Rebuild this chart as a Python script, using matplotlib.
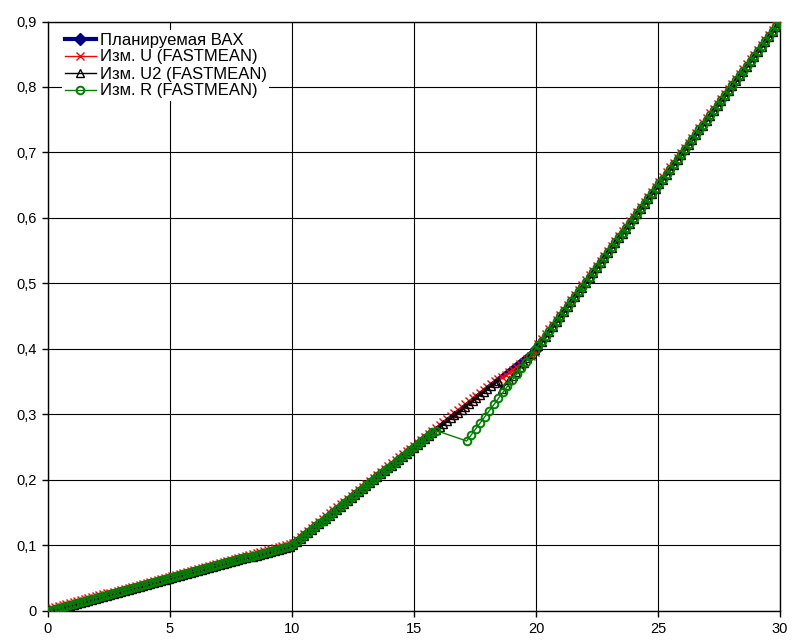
import matplotlib
matplotlib.use("Agg")
import matplotlib.pyplot as plt
from matplotlib.ticker import FuncFormatter

plt.rcParams['font.family'] = ['Liberation Sans', 'DejaVu Sans']

# planned I-V curve
x_plan = [0, 10, 20, 30]
y_plan = [0, 0.1, 0.4, 0.9]

# sweep points of the measured curves (U, U2)
x_meas = [0, 0.15, 0.3, 0.45, 0.6, 0.75, 0.9, 1.05, 1.2, 1.35, 1.5, 1.65, 1.8, 1.95, 2.1, 2.25, 2.4, 2.55, 2.7, 2.85,
          3, 3.15, 3.3, 3.45, 3.6, 3.75, 3.9, 4.05, 4.2, 4.35, 4.5, 4.65, 4.8, 4.95, 5.1, 5.25, 5.4, 5.55, 5.7, 5.85,
          6, 6.15, 6.3, 6.45, 6.6, 6.75, 6.9, 7.05, 7.2, 7.35, 7.5, 7.65, 7.8, 7.95, 8.1, 8.25, 8.4, 8.55, 8.7, 8.85,
          9, 9.15, 9.3, 9.45, 9.6, 9.75, 9.9,
          10.05, 10.2, 10.35, 10.5, 10.65, 10.8, 10.95, 11.1, 11.25, 11.4, 11.55, 11.7, 11.85, 12, 12.15, 12.3, 12.45,
          12.6, 12.75, 12.9, 13.05, 13.2, 13.35, 13.5, 13.65, 13.8, 13.95, 14.1, 14.25, 14.4, 14.55, 14.7, 14.85, 15,
          15.15, 15.3, 15.45, 15.6, 15.75, 15.9, 16.05, 16.2, 16.35, 16.5, 16.65, 16.8, 16.95, 17.1, 17.25, 17.4, 17.55,
          17.7, 17.85, 18, 18.15, 18.3, 18.45, 18.6, 18.75, 18.9, 19.05, 19.2, 19.35, 19.5, 19.65, 19.8, 19.95,
          20.1, 20.25, 20.4, 20.55, 20.7, 20.85, 21, 21.15, 21.3, 21.45, 21.6, 21.75, 21.9, 22.05, 22.2, 22.35, 22.5,
          22.65, 22.8, 22.95, 23.1, 23.25, 23.4, 23.55, 23.7, 23.85, 24, 24.15, 24.3, 24.45, 24.6, 24.75, 24.9, 25.05,
          25.2, 25.35, 25.5, 25.65, 25.8, 25.95, 26.1, 26.25, 26.4, 26.55, 26.7, 26.85, 27, 27.15, 27.3, 27.45, 27.6,
          27.75, 27.9, 28.05, 28.2, 28.35, 28.5, 28.65, 28.8, 28.95, 29.1, 29.25, 29.4, 29.55, 29.7, 29.85, 30]

u_meas = [0, .0035, .005, .0065, .008, .0095, .011, .0125, .014, .0155, .017, .0185, .02, .0215, .023, .0245, .026,
          .0275, .029, .0305, .032, .0335, .035, .0365, .038, .0395, .041, .0425, .044, .0455, .047, .0485, .05, .0515,
          .053, .0545, .056, .0575, .059, .0605, .062, .0635, .065, .0665, .068, .0695, .071, .0725, .074, .0755, .077,
          .0785, .08, .0815, .083, .0845, .086, .0875, .089, .0905, .092, .0935, .095, .0965, .098, .0995, .101,
          .1035, .108, .1125, .117, .1215, .126, .1305, .135, .1395, .144, .1485, .153, .1575, .162, .1665, .171, .1755,
          .18, .1845, .189, .1935, .198, .2025, .207, .2115, .216, .2205, .225, .2295, .234, .2385, .243, .2475, .252,
          .2565, .261, .2655, .27, .2745, .279, .2835, .288, .2925, .297, .3015, .306, .3105, .315, .3195, .324, .3285,
          .333, .3375, .342, .3465, .35, .353, .3565, .36, .364, .368, .372, .376, .38, .384, .389, .395,
          .407, .4145, .422, .4295, .437, .4445, .452, .4595, .467, .4745, .482, .4895, .497, .5045, .512, .5195, .527,
          .5345, .542, .5495, .557, .5645, .572, .5795, .587, .5945, .602, .6095, .617, .6245, .632, .6395, .647, .6545,
          .662, .6695, .677, .6845, .692, .6995, .707, .7145, .722, .7295, .737, .7445, .752, .7595, .767, .7745, .782,
          .7895, .797, .8045, .812, .8195, .827, .8345, .842, .8495, .857, .8645, .872, .8795, .887, .8945, .9]

u2_meas = [0, 0, .0015, .003, .0045, .006, .0075, .009, .0105, .012, .0135, .015, .0165, .018, .0195, .021, .0225,
           .024, .0255, .027, .0285, .03, .0315, .033, .0345, .036, .0375, .039, .0405, .042, .0435, .045, .0465, .048,
           .0495, .051, .0525, .054, .0555, .057, .0585, .06, .0615, .063, .0645, .066, .0675, .069, .0705, .072, .0735,
           .075, .0765, .078, .0795, .081, .0825, .084, .0855, .087, .0885, .09, .0915, .093, .0945, .096, .0975,
           .1, .1045, .109, .1135, .118, .1225, .127, .1315, .136, .1405, .145, .1495, .154, .1585, .163, .1675, .172,
           .1765, .181, .1855, .19, .1945, .199, .2035, .208, .2125, .217, .2215, .226, .2305, .235, .2395, .244, .2485,
           .253, .2575, .262, .2665, .271, .2755, .28, .2845, .289, .2935, .298, .3025, .307, .3115, .316, .3205, .325,
           .3295, .334, .3385, .343, .3475, .351, .338, .3447, .3515, .3582, .365, .3717, .3784, .3851, .3918, .3985,
           .4035, .411, .4185, .426, .4335, .441, .4485, .456, .4635, .471, .4785, .486, .4935, .501, .5085, .516, .5235,
           .531, .5385, .546, .5535, .561, .5685, .576, .5835, .591, .5985, .606, .6135, .621, .6285, .636, .6435, .651,
           .6585, .666, .6735, .681, .6885, .696, .7035, .711, .7185, .726, .7335, .741, .7485, .756, .7635, .771, .7785,
           .786, .7935, .801, .8085, .816, .8235, .831, .8385, .846, .8535, .861, .8685, .876, .8835, .891, .9]

# R sweep: normal up to 15.9, a dip after it, back on the curve from 20.1
r_low = [0, .0015, .003, .0045, .006, .0075, .009, .0105, .012, .0135, .015, .0165, .018, .0195, .021, .0225, .024,
         .0255, .027, .0285, .03, .0315, .033, .0345, .036, .0375, .039, .0405, .042, .0435, .045, .0465, .048, .0495,
         .051, .0525, .054, .0555, .057, .0585, .06, .0615, .063, .0645, .066, .0675, .069, .0705, .072, .0735, .075,
         .0765, .078, .0795, .081, .0825, .084, .0855, .087, .0885, .09, .0915, .093, .0945, .096, .0975, .099,
         .1015, .106, .1105, .115, .1195, .124, .1285, .133, .1375, .142, .1465, .151, .1555, .16, .1645, .169, .1735,
         .178, .1825, .187, .1915, .196, .2005, .205, .2095, .214, .2185, .223, .2275, .232, .2365, .241, .2455, .25,
         .2545, .259, .2635, .268, .2725, .275]
x_dip = [17.16, 17.35, 17.53, 17.72, 17.9, 18.09, 18.28, 18.46, 18.65, 18.83, 19.02, 19.21, 19.39, 19.58, 19.76, 19.95]
r_dip = [.259, .2685, .2775, .287, .296, .3055, .315, .324, .3335, .3425, .352, .3615, .3705, .38, .389, .3985]
r_high = [.405, .4125, .42, .4275, .435, .4425, .45, .4575, .465, .4725, .48, .4875, .495, .5025, .51, .5175, .525,
          .5325, .54, .5475, .555, .5625, .57, .5775, .585, .5925, .6, .6075, .615, .6225, .63, .6375, .645, .6525,
          .66, .6675, .675, .6825, .69, .6975, .705, .7125, .72, .7275, .735, .7425, .75, .7575, .765, .7725, .78,
          .7875, .795, .8025, .81, .8175, .825, .8325, .84, .8475, .855, .8625, .87, .8775, .885, .8925, .9]

x_r = x_meas[:len(r_low)] + x_dip + x_meas[-len(r_high):]
r_meas = r_low + r_dip + r_high

x_ticks = [0, 5, 10, 15, 20, 25, 30]
y_ticks = [0, 0.1, 0.2, 0.3, 0.4, 0.5, 0.6, 0.7, 0.8, 0.9]

fig = plt.figure(figsize=(7.92, 6.41), dpi=100)
ax = fig.add_axes([48 / 792, 1 - 610.5 / 641, (780 - 48) / 792, (610.5 - 21.5) / 641])

ax.plot(x_plan, y_plan, color='#000080', lw=3, marker='D', ms=6, label='Планируемая ВАХ', zorder=2)
ax.plot(x_meas, u_meas, color='#ff0000', lw=1, marker='x', ms=5.5, mew=1, label='Изм. U (FASTMEAN)', zorder=3)
ax.plot(x_meas, u2_meas, color='black', lw=1, marker='^', ms=5.5, mew=1, mfc='none',
        label='Изм. U2 (FASTMEAN)', zorder=4)
ax.plot(x_r, r_meas, color='#008000', lw=1, marker='o', ms=5.5, mew=1.4, mfc='none',
        label='Изм. R (FASTMEAN)', zorder=5)

ax.set_xlim(0, 30)
ax.set_ylim(0, 0.9)
ax.set_xticks(x_ticks)
ax.set_yticks(y_ticks)
ax.yaxis.set_major_formatter(FuncFormatter(lambda v, p: ('%g' % round(v, 2)).replace('.', ',')))
ax.grid(True, color='black', lw=0.8)
ax.set_axisbelow(True)
ax.tick_params(direction='out', length=4, width=1, labelsize=10.5, pad=4)
for s in ax.spines.values():
    s.set_linewidth(1)

leg = ax.legend(loc='upper left', bbox_to_anchor=(62 / 792, 1 - 30 / 641), bbox_transform=fig.transFigure,
                fontsize=12, frameon=True, fancybox=False, edgecolor='none', facecolor='white', framealpha=1,
                borderpad=0.15, labelspacing=0.12, handlelength=1.9, handletextpad=0.2, borderaxespad=0)

fig.savefig('out.png', dpi=100)
